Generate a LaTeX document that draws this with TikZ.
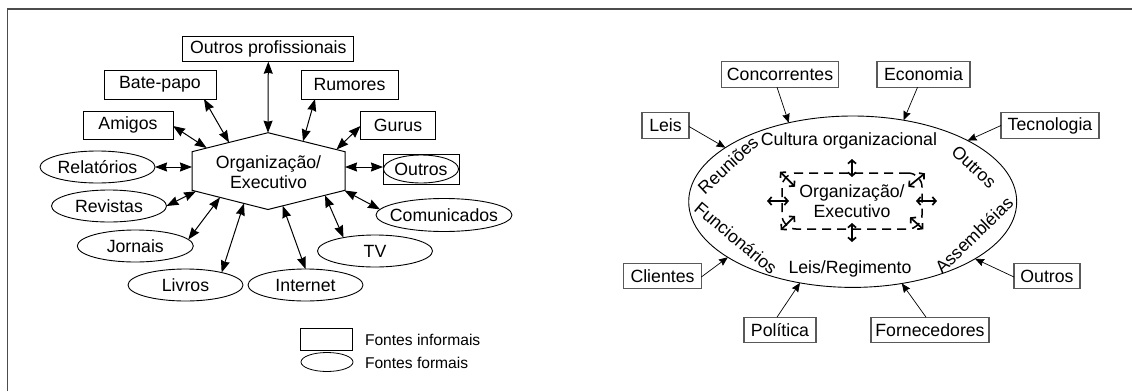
\documentclass[tikz,border=0pt]{standalone}
\usepackage{fontspec}
\setmainfont{Liberation Sans}
\usetikzlibrary{shapes.geometric,arrows.meta}
\newcommand\txtA{\fontsize{17.7}{19.8}\selectfont}
\newcommand\txtL{\fontsize{15.6}{17}\selectfont}

\begin{document}
\begin{tikzpicture}[x=1pt,y=-1pt,
  every node/.style={inner sep=0pt, outer sep=0pt, font=\txtA, text=black},
  ibox/.style={draw=black, line width=1pt, rectangle},
  rbox/.style={draw=black!65, line width=1.2pt, rectangle, minimum height=25.7},
  fell/.style={draw=black, line width=0.9pt, ellipse, minimum height=32},
  dbl/.style={<->, >={Stealth[length=12pt,width=9pt,inset=1pt]}, line width=1pt},
  sgl/.style={->, >={Stealth[length=9pt,width=7.5pt,inset=1pt]}, line width=0.7pt},
  sm/.style={<->, >={Straight Barb[length=3.5pt,width=8pt]}, line width=1.7pt}]

\useasboundingbox (0,0) rectangle (1132,391);

% outer frame (top and left edges)
\draw[line width=1.2pt, draw=black!70] (7.3,391) -- (7.3,9) -- (1132,9);

% ---------- informal / formal sources around the executive ----------
\coordinate (hN)  at (268,132.7);
\coordinate (hNE) at (345,151.7);
\coordinate (hSE) at (345,190.3);
\coordinate (hS)  at (268,209.5);
\coordinate (hSW) at (192,190.3);
\coordinate (hNW) at (192,151.7);
\draw[line width=1pt] (hN) -- (hNE) -- (hSE) -- (hS) -- (hSW) -- (hNW) -- cycle;
\node[align=center] (org) at (268.5,172) {Organização/\\Executivo};

% points on the hexagon where the connectors end
\coordinate (hBp) at (229,142.5);
\coordinate (hRu) at (303,141.3);
\coordinate (hAm) at (206.7,148);
\coordinate (hGu) at (336.5,149.5);
\coordinate (hRe) at (192,167);
\coordinate (hOu) at (345,167);
\coordinate (hRv) at (196,191.3);
\coordinate (hJo) at (220,197.4);
\coordinate (hLi) at (244,203.4);
\coordinate (hIn) at (282.7,205.8);
\coordinate (hTv) at (325,195.3);
\coordinate (hCo) at (344.5,190.5);

% informal sources
\node[ibox, minimum width=171, minimum height=25] (op)  at (268.3,49.2) {Outros profissionais};
\node[ibox, minimum width=112, minimum height=29] (bp)  at (160,84.5)   {Bate-papo};
\node[ibox, minimum width=97,  minimum height=29] (rum) at (349.5,84.5) {Rumores};
\node[ibox, minimum width=90,  minimum height=28] (ami) at (128,125)    {Amigos};
\node[ibox, minimum width=75,  minimum height=28] (gur) at (398,125)    {Gurus};
\node[ibox, minimum width=76,  minimum height=30] (outl) at (421,169)   {};

% formal sources
\node[fell, minimum width=75, minimum height=28, label=center:Outros] (outle) at (421,169) {};
\node[fell, minimum width=115, label=center:Relatórios] (rel) at (97.5,167) {};
\node[fell, minimum width=115, label=center:Revistas]   (rev) at (109,206) {};
\node[fell, minimum width=116, label=center:Jornais]    (jor) at (135.3,246) {};
\node[fell, minimum width=115, label=center:Livros]     (liv) at (185.5,285) {};
\node[fell, minimum width=115, label=center:Internet]   (int) at (305.5,285) {};
\node[fell, minimum width=115, label=center:TV]         (tv)  at (375,251) {};
\node[fell, minimum width=136, minimum height=33, label=center:Comunicados] (com) at (444,215) {};

% two-way connectors
\draw[dbl] (op.south) -- (hN);
\draw[dbl] ([xshift=-12pt]bp.south east) -- (hBp);
\draw[dbl] ([xshift=14pt]rum.south west) -- (hRu);
\draw[dbl] ([yshift=-1pt]ami.east) -- (hAm);
\draw[dbl] ([yshift=-1pt]gur.west) -- (hGu);
\draw[dbl] (rel.east) -- (hRe);
\draw[dbl] (hOu) -- ([yshift=2pt]outl.west);
\draw[dbl] (rev.east) -- (hRv);
\draw[dbl] (jor.7) -- (hJo);
\draw[dbl] (liv.19) -- (hLi);
\draw[dbl] (int.north) -- (hIn);
\draw[dbl] (tv.157) -- (hTv);
\draw[dbl] (com.175) -- (hCo);

% legend
\node[draw, line width=0.8pt, minimum width=52, minimum height=22] (lgr) at (326.7,339) {};
\node[draw, ellipse, line width=0.8pt, minimum width=52, minimum height=19] (lge) at (327,362) {};
\node[anchor=west, font=\txtL] (lgrt) at (365,340) {Fontes informais};
\node[anchor=west, font=\txtL] (lget) at (365,362.7) {Fontes formais};

% ---------- external environment and organizational culture ----------
\node[draw, ellipse, line width=0.9pt, minimum width=328, minimum height=171.4] (cult) at (852.7,201.7) {};

\node (cultt) at (849,140.7) {Cultura organizacional};
\node[rotate=43]  (reu)  at (728,165) {Reuniões};
\node[rotate=-43] (outi) at (974,167) {Outros};
\node[rotate=-40] (func) at (736,238) {Funcionários};
\node[rotate=44]  (ass)  at (974,235) {Assembléias};
\node (leisr) at (850,269) {Leis/Regimento};

\node[draw, dash pattern=on 9pt off 6pt, line width=1.5pt, rounded corners=14pt,
      minimum width=140, minimum height=56, align=center] (in) at (852,201) {Organização/\\Executivo};

\draw[sm] ([yshift=14pt]in.north) -- ([yshift=-4pt]in.north);
\draw[sm] ([yshift=6pt]in.south) -- ([yshift=-13pt]in.south);
\draw[sm] ([xshift=-15pt]in.west) -- ([xshift=7pt]in.west);
\draw[sm] ([xshift=-6pt]in.east) -- ([xshift=15pt]in.east);
\draw[sm] ([shift={(-2,-1.3)}]in.north west) -- ([shift={(13,13.7)}]in.north west);
\draw[sm] ([shift={(3,0.3)}]in.north east) -- ([shift={(-13.7,13.7)}]in.north east);
\draw[sm] ([shift={(-1.3,1)}]in.south west) -- ([shift={(13,-13)}]in.south west);
\draw[sm] ([shift={(1.3,0.3)}]in.south east) -- ([shift={(-12,-11.7)}]in.south east);

\node[rbox, minimum width=116.7] (conc) at (780,74.5)   {Concorrentes};
\node[rbox, minimum width=93]    (eco)  at (923.5,74.5) {Economia};
\node[rbox, minimum width=47]    (leis) at (665.5,125.5) {Leis};
\node[rbox, minimum width=98]    (tec)  at (1050,125.5) {Tecnologia};
\node[rbox, minimum width=77.6]  (cli)  at (662.5,276)  {Clientes};
\node[rbox, minimum width=66]    (outr) at (1047,276)   {Outros};
\node[rbox, minimum width=72]    (pol)  at (780,330)    {Política};
\node[rbox, minimum width=118]   (forn) at (930,330)    {Fornecedores};

\draw[sgl] ([xshift=-3pt]conc.south) -- (cult.129.3);
\draw[sgl] ([xshift=-6pt]eco.south) -- (cult.58.8);
\draw[sgl] ([yshift=-1pt]leis.east) -- (cult.157.5);
\draw[sgl] (tec.west) -- (cult.28.8);
\draw[sgl] ([yshift=-1pt]cli.east) -- (cult.204.6);
\draw[sgl] ([yshift=-1pt]outr.west) -- (cult.335.5);
\draw[sgl] ([xshift=-3pt]pol.north) -- (cult.237.8);
\draw[sgl] ([xshift=-4pt]forn.north) -- (cult.301.3);

\end{tikzpicture}
\end{document}
